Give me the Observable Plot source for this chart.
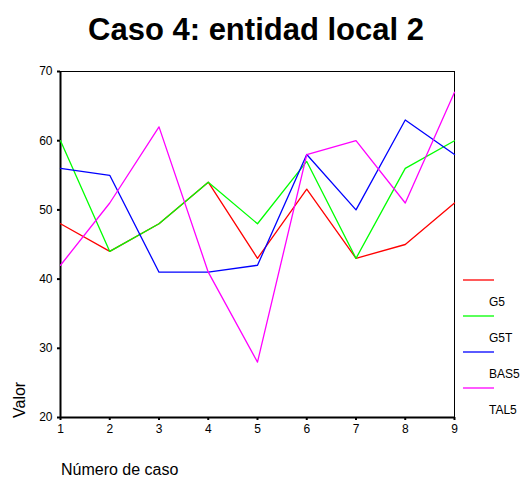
<!DOCTYPE html>
<html>
<head>
<meta charset="utf-8">
<script src="https://cdn.jsdelivr.net/npm/d3@7"></script>
<script src="https://cdn.jsdelivr.net/npm/@observablehq/plot@0.6"></script>
<style>
  html, body { margin: 0; padding: 0; background: #fff; }
  #chart { position: relative; width: 521px; height: 477px; font-family: "Liberation Sans", Arial, sans-serif; }
</style>
</head>
<body>
<div id="chart"></div>
<script>
const cases = [1, 2, 3, 4, 5, 6, 7, 8, 9];
const G5   = [48, 44, 48, 54, 43, 53, 43, 45, 51];
const G5T  = [60, 44, 48, 54, 48, 57, 43, 56, 60];
const BAS5 = [56, 55, 41, 41, 42, 58, 50, 63, 58];
const TAL5 = [42, 51, 62, 41, 28, 58, 60, 51, 67];
const seriesNames = ["G5", "G5T", "BAS5", "TAL5"];
const seriesColors = ["#ff0000", "#00ff00", "#0000ff", "#ff00ff"];
const yTicks = [20, 30, 40, 50, 60, 70];
const title = "Caso 4: entidad local 2";

const seriesValues = [G5, G5T, BAS5, TAL5];
const data = [];
seriesNames.forEach((name, i) => {
  cases.forEach((c, j) => data.push({series: name, caso: c, valor: seriesValues[i][j]}));
});

const W = 521, H = 477;
const mL = 60, mR = 67, mT = 71, mB = 60;

const plot = Plot.plot({
  width: W,
  height: H,
  marginLeft: mL,
  marginRight: mR,
  marginTop: mT,
  marginBottom: mB,
  style: {fontFamily: "'Liberation Sans', Arial, sans-serif", fontSize: "12px", color: "#000", background: "#fff"},
  x: {domain: [1, 9], ticks: cases, tickFormat: d => d, label: null},
  y: {domain: [20, 70], ticks: yTicks, tickFormat: d => d, label: null},
  color: {domain: seriesNames, range: seriesColors},
  marks: [
    Plot.frame({stroke: "#000", strokeWidth: 1}),
    Plot.axisY({ticks: yTicks, tickSize: 3, tickPadding: 5, strokeWidth: 2, fontSize: 12, label: null}),
    Plot.axisX({ticks: cases, tickSize: 3, tickPadding: 4, strokeWidth: 2, fontSize: 12, label: null}),
    Plot.ruleX([1], {stroke: "#000", strokeWidth: 2}),
    Plot.ruleY([20], {stroke: "#000", strokeWidth: 2}),
    Plot.line(data, {x: "caso", y: "valor", z: "series", stroke: "series", strokeWidth: 1.3}),
  ]
});

const chart = document.getElementById("chart");
chart.appendChild(plot);

const svg = d3.select(plot);
// Title
svg.append("text")
  .attr("x", 256)
  .attr("y", 40)
  .attr("text-anchor", "middle")
  .attr("font-size", 31)
  .attr("font-weight", "bold")
  .attr("fill", "#000")
  .text(title);
// Axis labels
svg.append("text")
  .attr("transform", `translate(25, 418) rotate(-90)`)
  .attr("text-anchor", "start")
  .attr("font-size", 16)
  .attr("fill", "#000")
  .text("Valor");
svg.append("text")
  .attr("x", 61)
  .attr("y", 475)
  .attr("text-anchor", "start")
  .attr("font-size", 16)
  .attr("fill", "#000")
  .text("Número de caso");
// Legend (as in the reference: swatch line, label shifted below)
const lg = svg.append("g");
seriesNames.forEach((name, i) => {
  const y0 = 280 + i * 36;
  lg.append("line")
    .attr("x1", 463).attr("x2", 494)
    .attr("y1", y0).attr("y2", y0)
    .attr("stroke", seriesColors[i]).attr("stroke-width", 1.3);
  lg.append("text")
    .attr("x", 489).attr("y", y0 + 26)
    .attr("text-anchor", "start")
    .attr("font-size", 12).attr("fill", "#000")
    .text(name);
});
</script>
</body>
</html>
